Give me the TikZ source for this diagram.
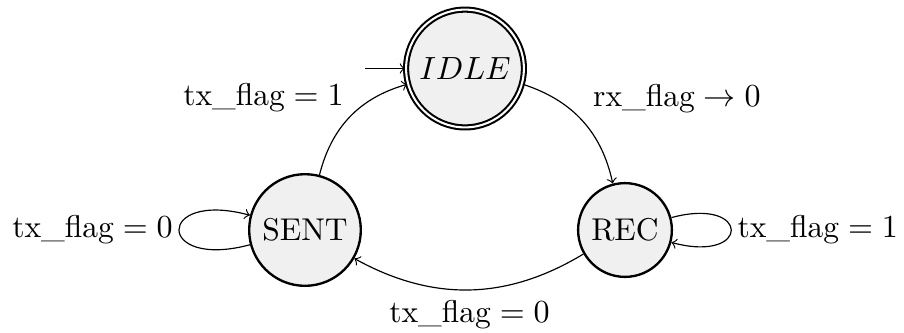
\documentclass[tikz,border=0pt]{standalone}
\usepackage{amsmath}
\definecolor{statefill}{RGB}{240,240,240}
\begin{document}
\begin{tikzpicture}[x=0.3413pt, y=-0.3413pt,
  font=\fontsize{10.75pt}{13pt}\selectfont,
  statenode/.style={circle, draw, line width=0.8pt, fill=statefill, inner sep=0pt},
  acceptnode/.style={double, double distance=0.7pt, line width=0.7pt},
  trans/.style={->, line width=0.4pt},
  lbl/.style={inner sep=2pt}]
\useasboundingbox (0,0) rectangle (904,332);
\node[statenode, acceptnode, minimum size=40.2pt] (IDLE) at (465,68.5) {$IDLE$};
\node[statenode, minimum size=38.1pt] (SENT) at (305,230) {SENT};
\node[statenode, minimum size=32pt] (REC) at (625,230) {REC};
\coordinate (init) at (365,68.5);
\draw[trans] (init) -- (IDLE);
\draw[trans] (SENT) to[bend left=30] node[lbl, above left, yshift=-0.5pt] {$\text{tx\_flag} = 1$} (IDLE);
\draw[trans] (IDLE) to[bend left=30] node[lbl, above right, xshift=1.5pt, yshift=0.5pt] {$\text{rx\_flag} \to 0$} (REC);
\draw[trans] (REC) to[bend left=30] node[lbl, below, yshift=-1.5pt] {$\text{tx\_flag} = 0$} (SENT);
\draw[trans] (SENT) to[loop left, looseness=8.5] node[lbl, left] {$\text{tx\_flag} = 0$} (SENT);
\draw[trans] (REC) to[loop right, looseness=8.5] node[lbl, right] {$\text{tx\_flag} = 1$} (REC);
\end{tikzpicture}
\end{document}
